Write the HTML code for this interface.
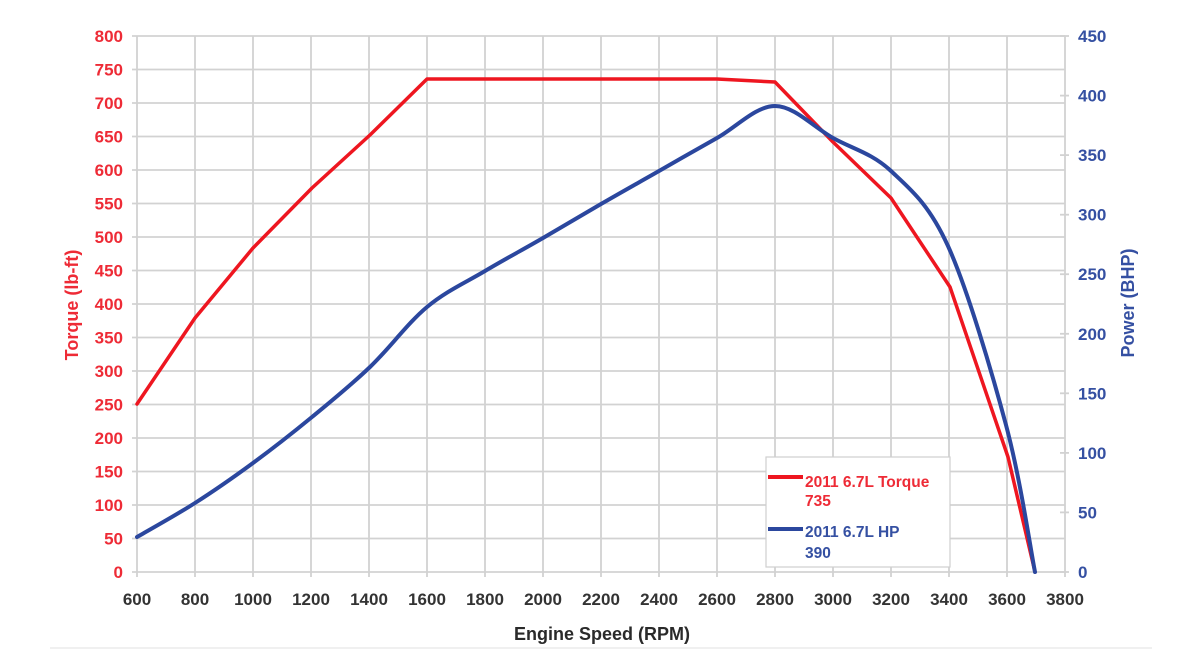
<!DOCTYPE html>
<html>
<head>
<meta charset="utf-8">
<style>
html,body{margin:0;padding:0;background:#fff;}
svg{display:block;}
text{font-family:"Liberation Sans",Arial,sans-serif;font-weight:bold;}
</style>
</head>
<body>
<svg width="1200" height="666" viewBox="0 0 1200 666" xmlns="http://www.w3.org/2000/svg">
<rect width="1200" height="666" fill="#fff"/>
<!-- grid -->
<g stroke="#d2d2d2" stroke-width="1.8" fill="none">
<line x1="132" y1="572" x2="1065" y2="572"/>
<line x1="132" y1="538.5" x2="1065" y2="538.5"/>
<line x1="132" y1="505" x2="1065" y2="505"/>
<line x1="132" y1="471.5" x2="1065" y2="471.5"/>
<line x1="132" y1="438" x2="1065" y2="438"/>
<line x1="132" y1="404.5" x2="1065" y2="404.5"/>
<line x1="132" y1="371" x2="1065" y2="371"/>
<line x1="132" y1="337.5" x2="1065" y2="337.5"/>
<line x1="132" y1="304" x2="1065" y2="304"/>
<line x1="132" y1="270.5" x2="1065" y2="270.5"/>
<line x1="132" y1="237" x2="1065" y2="237"/>
<line x1="132" y1="203.5" x2="1065" y2="203.5"/>
<line x1="132" y1="170" x2="1065" y2="170"/>
<line x1="132" y1="136.5" x2="1065" y2="136.5"/>
<line x1="132" y1="103" x2="1065" y2="103"/>
<line x1="132" y1="69.5" x2="1065" y2="69.5"/>
<line x1="132" y1="36" x2="1065" y2="36"/>
<line x1="137" y1="36" x2="137" y2="577"/>
<line x1="195" y1="36" x2="195" y2="577"/>
<line x1="253" y1="36" x2="253" y2="577"/>
<line x1="311" y1="36" x2="311" y2="577"/>
<line x1="369" y1="36" x2="369" y2="577"/>
<line x1="427" y1="36" x2="427" y2="577"/>
<line x1="485" y1="36" x2="485" y2="577"/>
<line x1="543" y1="36" x2="543" y2="577"/>
<line x1="601" y1="36" x2="601" y2="577"/>
<line x1="659" y1="36" x2="659" y2="577"/>
<line x1="717" y1="36" x2="717" y2="577"/>
<line x1="775" y1="36" x2="775" y2="577"/>
<line x1="833" y1="36" x2="833" y2="577"/>
<line x1="891" y1="36" x2="891" y2="577"/>
<line x1="949" y1="36" x2="949" y2="577"/>
<line x1="1007" y1="36" x2="1007" y2="577"/>
<line x1="1065" y1="36" x2="1065" y2="577"/>
<!-- right ticks -->
<line x1="1060" y1="572" x2="1069" y2="572"/>
<line x1="1060" y1="512.4" x2="1069" y2="512.4"/>
<line x1="1060" y1="452.9" x2="1069" y2="452.9"/>
<line x1="1060" y1="393.3" x2="1069" y2="393.3"/>
<line x1="1060" y1="333.8" x2="1069" y2="333.8"/>
<line x1="1060" y1="274.2" x2="1069" y2="274.2"/>
<line x1="1060" y1="214.7" x2="1069" y2="214.7"/>
<line x1="1060" y1="155.1" x2="1069" y2="155.1"/>
<line x1="1060" y1="95.6" x2="1069" y2="95.6"/>
<line x1="1060" y1="36" x2="1069" y2="36"/>
</g>

<!-- left tick labels -->
<g fill="#ee2b36" font-size="17" text-anchor="end">
<text x="123" y="578">0</text>
<text x="123" y="544.5">50</text>
<text x="123" y="511">100</text>
<text x="123" y="477.5">150</text>
<text x="123" y="444">200</text>
<text x="123" y="410.5">250</text>
<text x="123" y="377">300</text>
<text x="123" y="343.5">350</text>
<text x="123" y="310">400</text>
<text x="123" y="276.5">450</text>
<text x="123" y="243">500</text>
<text x="123" y="209.5">550</text>
<text x="123" y="176">600</text>
<text x="123" y="142.5">650</text>
<text x="123" y="109">700</text>
<text x="123" y="75.5">750</text>
<text x="123" y="42">800</text>
</g>

<!-- right tick labels -->
<g fill="#3550a2" font-size="17" text-anchor="start">
<text x="1078" y="578">0</text>
<text x="1078" y="518.4">50</text>
<text x="1078" y="458.9">100</text>
<text x="1078" y="399.3">150</text>
<text x="1078" y="339.8">200</text>
<text x="1078" y="280.2">250</text>
<text x="1078" y="220.7">300</text>
<text x="1078" y="161.1">350</text>
<text x="1078" y="101.6">400</text>
<text x="1078" y="42">450</text>
</g>

<!-- x tick labels -->
<g fill="#333" font-size="17" text-anchor="middle">
<text x="137" y="605">600</text>
<text x="195" y="605">800</text>
<text x="253" y="605">1000</text>
<text x="311" y="605">1200</text>
<text x="369" y="605">1400</text>
<text x="427" y="605">1600</text>
<text x="485" y="605">1800</text>
<text x="543" y="605">2000</text>
<text x="601" y="605">2200</text>
<text x="659" y="605">2400</text>
<text x="717" y="605">2600</text>
<text x="775" y="605">2800</text>
<text x="833" y="605">3000</text>
<text x="891" y="605">3200</text>
<text x="949" y="605">3400</text>
<text x="1007" y="605">3600</text>
<text x="1065" y="605">3800</text>
</g>

<!-- axis titles -->
<text x="602" y="640" fill="#2a2a2a" font-size="18" text-anchor="middle">Engine Speed (RPM)</text>
<text transform="translate(78,305) rotate(-90)" fill="#ee2b36" font-size="18" text-anchor="middle">Torque (lb-ft)</text>
<text transform="translate(1134,303) rotate(-90)" fill="#3550a2" font-size="18" text-anchor="middle">Power (BHP)</text>

<!-- torque series -->
<polyline fill="none" stroke="#ee1620" stroke-width="3.5" stroke-linejoin="round" stroke-linecap="round"
points="137,404 195,318 253,248 312,188 370,135 427,79 717,79 775,82 833,142 891,198 950,287 1008,457 1035,572"/>

<!-- HP series -->
<path fill="none" stroke="#2b479e" stroke-width="4" stroke-linejoin="round" stroke-linecap="round"
d="M137,537 C146.7,531.3 175.7,515.3 195,503 C214.3,490.7 233.5,477.3 253,463 C272.5,448.7 292.5,433 312,417 C331.5,401 350.8,385.3 370,367 C389.2,348.7 407.8,323 427,307 C446.2,291 465.7,282.5 485,271 C504.3,259.5 523.7,249.2 543,238 C562.3,226.8 581.7,215.2 601,204 C620.3,192.8 639.7,182 659,171 C678.3,160 697.7,148.8 717,138 C736.3,127.2 755.7,106 775,106 C794.3,106 813.7,127.2 833,138 C852.3,148.8 871.8,153 891,171 C910.2,189 928.8,203.7 948,246 C967.2,288.3 991.5,370.7 1006,425 C1020.5,479.3 1030.2,547.5 1035,572"/>

<!-- legend -->
<rect x="766" y="457" width="184" height="110" fill="#fff" stroke="#cfcfcf" stroke-width="1.2"/>
<line x1="768" y1="477" x2="803" y2="477" stroke="#ee1620" stroke-width="4"/>
<line x1="768" y1="529" x2="803" y2="529" stroke="#2b479e" stroke-width="4"/>
<g font-size="15.5">
<text x="805" y="487" fill="#ee2b36">2011 6.7L Torque</text>
<text x="805" y="506" fill="#ee2b36">735</text>
<text x="805" y="537" fill="#3550a2">2011 6.7L HP</text>
<text x="805" y="558" fill="#3550a2">390</text>
</g>

<!-- bottom separator -->
<line x1="50" y1="648" x2="1152" y2="648" stroke="#ececec" stroke-width="1.5"/>
</svg>
</body>
</html>
